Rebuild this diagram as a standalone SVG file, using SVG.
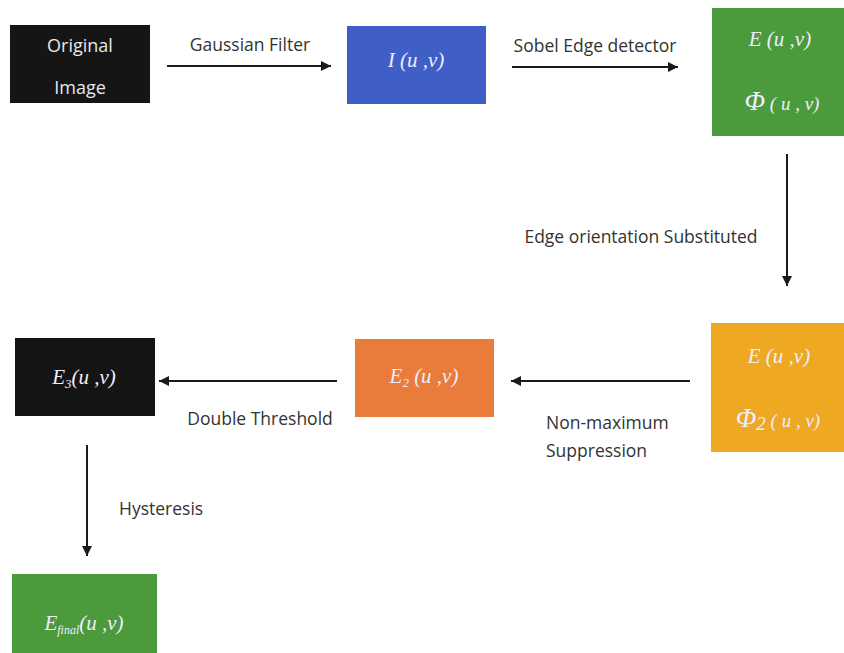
<svg xmlns="http://www.w3.org/2000/svg" width="844" height="653" viewBox="0 0 844 653">
<defs>
<marker id="ah" viewBox="0 0 10 10" refX="10" refY="5" markerWidth="10" markerHeight="10" markerUnits="userSpaceOnUse" orient="auto">
<path d="M0,0 L10,5 L0,10 z" fill="#1a1a1a"/>
</marker>
<style>
.lbl{font-family:"Open Sans","Liberation Sans",sans-serif;font-size:17.5px;fill:#333}
.nt{font-family:"Open Sans","Liberation Sans",sans-serif;font-size:18px;fill:#e8e8e8;text-anchor:middle}
.mt{font-family:"Liberation Serif",serif;font-style:italic;font-size:21px;fill:#eef;text-anchor:middle}
.ph{font-family:"Liberation Serif",serif;font-style:italic;font-size:27px;fill:#eef;text-anchor:middle}
.ln{stroke:#1a1a1a;stroke-width:2;fill:none;marker-end:url(#ah)}
</style>
</defs>
<rect width="844" height="653" fill="#fff"/>
<g id="n-original">
<rect x="10" y="25" width="140" height="78" fill="#151515"/>
<text class="nt" x="80" y="52">Original</text>
<text class="nt" x="80" y="94">Image</text>
</g>
<g id="n-I">
<rect x="347" y="26" width="139" height="78" fill="#3f5fc6"/>
<text class="mt" x="416" y="67" fill="#dde">I (u ,v)</text>
</g>
<g id="n-E">
<rect x="712" y="8" width="132" height="128" fill="#4b9a3c"/>
<text class="mt" x="780" y="46">E (u ,v)</text>
<text class="ph" x="782" y="110">Φ<tspan font-size="19"> ( u , v)</tspan></text>
</g>
<g id="n-E-phi2">
<rect x="711" y="323" width="133" height="129" fill="#eea822"/>
<text class="mt" x="779" y="363" fill="#fbe8b0">E (u ,v)</text>
<text class="ph" x="778" y="427" fill="#fbe8b0">Φ<tspan font-size="19" baseline-shift="-3">2</tspan><tspan font-size="19"> ( u , v)</tspan></text>
</g>
<g id="n-E2">
<rect x="355" y="339" width="139" height="78" fill="#e97b3b"/>
<text class="mt" x="424" y="383" fill="#fbe0c8">E<tspan font-size="13" baseline-shift="-4">2</tspan> (u ,v)</text>
</g>
<g id="n-E3">
<rect x="15" y="338" width="140" height="78" fill="#141414"/>
<text class="mt" x="84" y="384">E<tspan font-size="13" baseline-shift="-4">3</tspan>(u ,v)</text>
</g>
<g id="n-Efinal">
<rect x="12" y="574" width="145" height="79" fill="#4b9a3c"/>
<text class="mt" x="84" y="630" fill="#dfe">E<tspan font-size="12" baseline-shift="-4">final</tspan>(u ,v)</text>
</g>
<g id="connectors">
<line class="ln" x1="167" y1="66" x2="331" y2="66"/>
<line class="ln" x1="512" y1="67" x2="678" y2="67"/>
<line class="ln" x1="787" y1="154" x2="787" y2="286"/>
<line class="ln" x1="690" y1="381" x2="511" y2="381"/>
<line class="ln" x1="337" y1="381" x2="159" y2="381"/>
<line class="ln" x1="87" y1="445" x2="87" y2="556"/>
</g>
<g id="labels">
<text class="lbl" x="250" y="51" text-anchor="middle">Gaussian Filter</text>
<text class="lbl" x="595" y="52" text-anchor="middle">Sobel Edge detector</text>
<text class="lbl" x="641" y="243" text-anchor="middle">Edge orientation Substituted</text>
<text class="lbl" x="546" y="429">Non-maximum</text>
<text class="lbl" x="546" y="457">Suppression</text>
<text class="lbl" x="260" y="425" text-anchor="middle">Double Threshold</text>
<text class="lbl" x="119" y="515">Hysteresis</text>
</g>
</svg>
